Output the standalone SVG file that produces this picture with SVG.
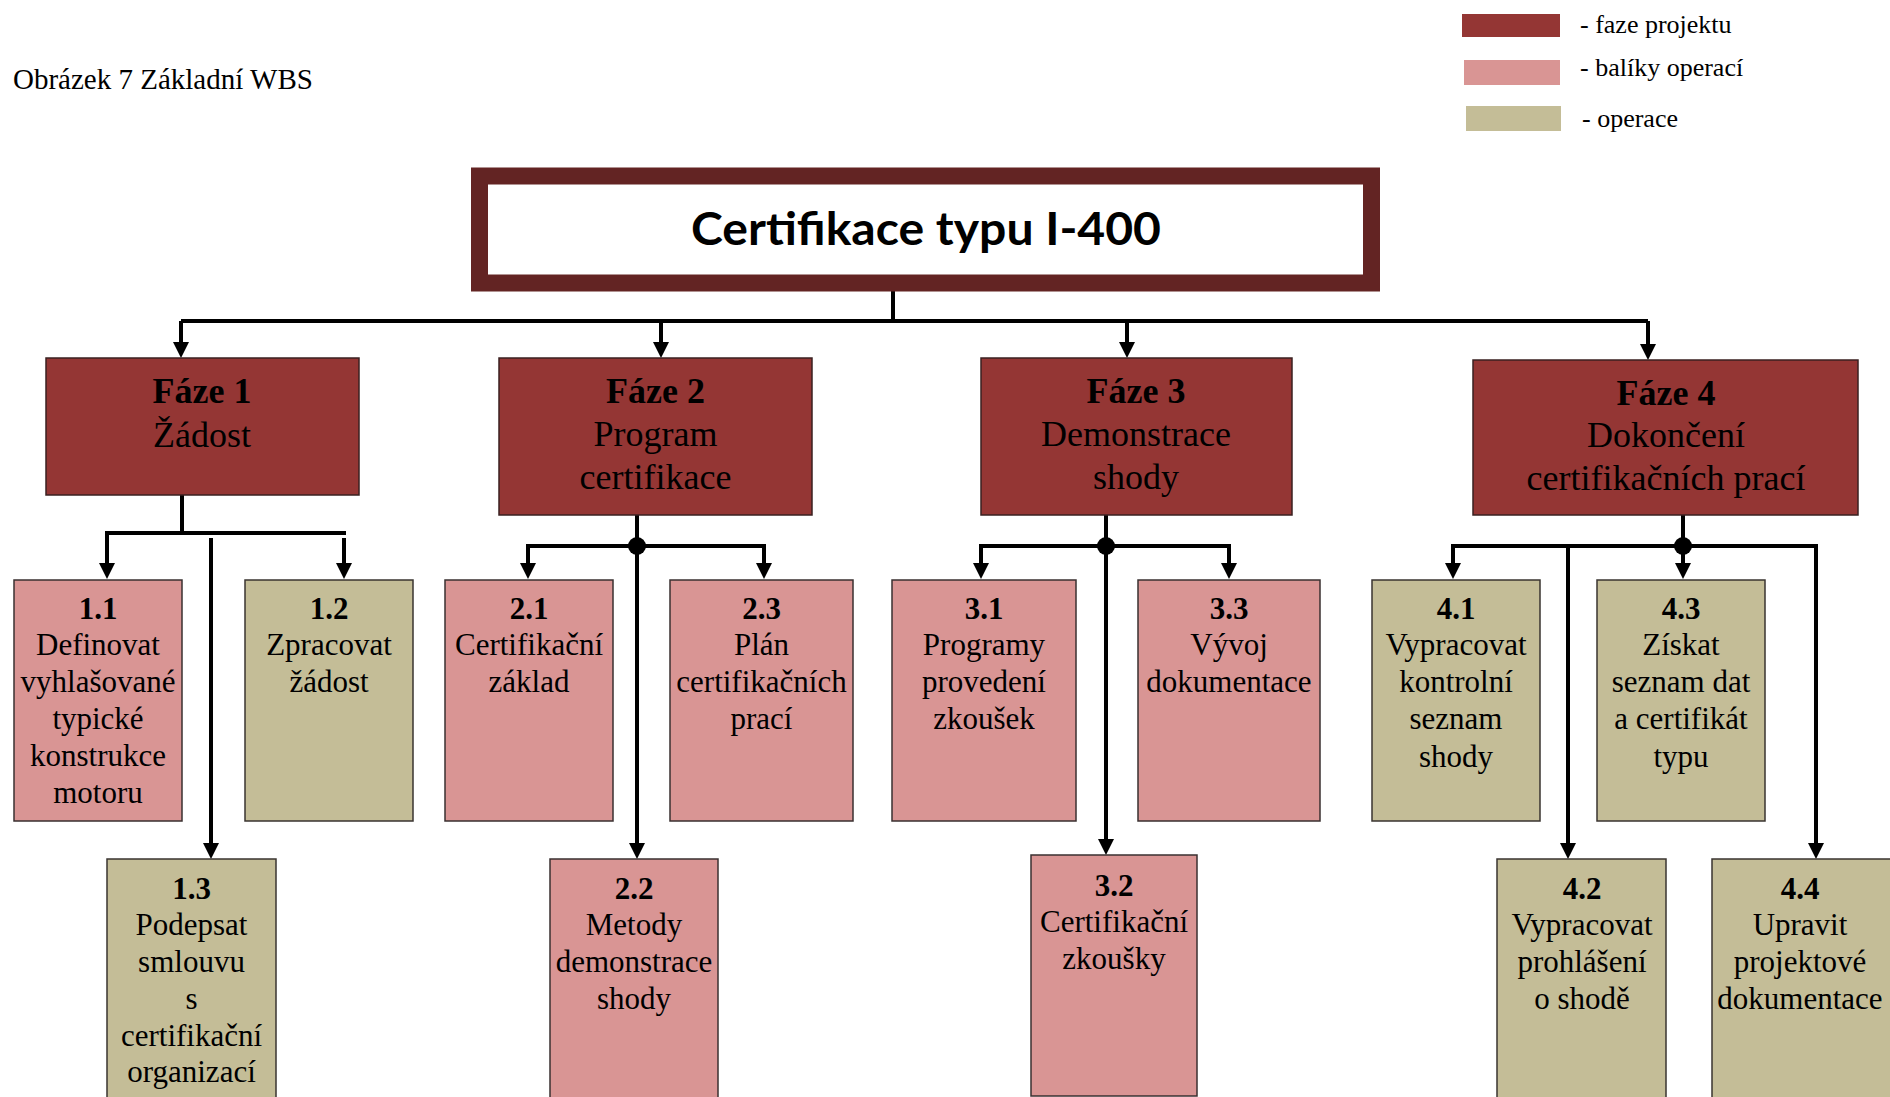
<svg xmlns="http://www.w3.org/2000/svg" width="1890" height="1097" viewBox="0 0 1890 1097">
<defs>
<style>
.serif{font-family:"Liberation Serif","Times New Roman",serif;fill:#000}
.cap{font-size:29px}
.leg{font-size:26px}
.ph{font-size:36px;text-anchor:middle}
.nd{font-size:31px;text-anchor:middle}
.b{font-weight:bold}
.phase{fill:#943634;stroke:#3a2020;stroke-width:1.5}
.pkg{fill:#D99594;stroke:#3a3030;stroke-width:1.5}
.op{fill:#C4BD97;stroke:#3a3530;stroke-width:1.5}
.ln{fill:none;stroke:#000;stroke-width:4}
.ar{fill:none;stroke:#000;stroke-width:4;marker-end:url(#ah)}
</style>
<marker id="ah" markerUnits="userSpaceOnUse" viewBox="0 0 16 16" markerWidth="16" markerHeight="16" refX="6" refY="8" orient="auto">
<path d="M0,0 L16,8 L0,16 z" fill="#000"/>
</marker>
</defs>
<rect width="1890" height="1097" fill="#fff"/>

<text class="serif cap" x="13" y="89">Obrázek 7 Základní WBS</text>

<g id="legend">
<rect x="1462" y="14" width="98" height="23" fill="#943634"/>
<rect x="1464" y="60" width="96" height="25" fill="#D99594"/>
<rect x="1466" y="106" width="95" height="25" fill="#C4BD97"/>
<text class="serif leg" x="1580" y="33">- faze projektu</text>
<text class="serif leg" x="1580" y="76">- balíky operací</text>
<text class="serif leg" x="1582" y="127">- operace</text>
</g>

<g id="connectors">
<path class="ln" d="M893,291 V321 M181,321 H1648"/>
<path class="ar" d="M181,321 V348"/>
<path class="ar" d="M661,321 V348"/>
<path class="ar" d="M1127,321 V348"/>
<path class="ar" d="M1648,321 V350"/>
<path class="ln" d="M182,495 V533 M105,533 H346"/>
<path class="ar" d="M107,531 V569"/>
<path class="ar" d="M344,538 V569"/>
<path class="ar" d="M211,538 V849"/>
<path class="ln" d="M637,515 V546 M526,546 H766"/>
<path class="ar" d="M528,544 V569"/>
<path class="ar" d="M764,544 V569"/>
<path class="ar" d="M637,546 V849"/>
<circle cx="637" cy="546" r="9" fill="#000"/>
<path class="ln" d="M1106,515 V546 M979,546 H1231"/>
<path class="ar" d="M981,544 V569"/>
<path class="ar" d="M1229,544 V569"/>
<path class="ar" d="M1106,546 V845"/>
<circle cx="1106" cy="546" r="9" fill="#000"/>
<path class="ln" d="M1683,515 V546 M1451,546 H1818"/>
<path class="ar" d="M1453,544 V569"/>
<path class="ar" d="M1683,546 V569"/>
<path class="ar" d="M1568,544 V849"/>
<path class="ar" d="M1816,544 V849"/>
<circle cx="1683" cy="546" r="9" fill="#000"/>
</g>

<g id="root">
<rect x="479.5" y="176" width="892" height="107" fill="#fff" stroke="#632423" stroke-width="17"/>
<text x="926" y="245" text-anchor="middle" font-family="Lato,'Open Sans',sans-serif" font-weight="bold" font-size="45" textLength="470" lengthAdjust="spacingAndGlyphs" fill="#000">Certifikace typu I-400</text>
</g>

<g id="phase1">
<rect class="phase" x="46" y="358" width="313" height="137"/>
<text class="serif ph b" x="202" y="403">Fáze 1</text>
<text class="serif ph" x="202" y="447">Žádost</text>
</g>
<g id="phase2">
<rect class="phase" x="499" y="358" width="313" height="157"/>
<text class="serif ph b" x="655.5" y="403">Fáze 2</text>
<text class="serif ph" x="655.5" y="446">Program</text>
<text class="serif ph" x="655.5" y="489">certifikace</text>
</g>
<g id="phase3">
<rect class="phase" x="981" y="358" width="311" height="157"/>
<text class="serif ph b" x="1136" y="403">Fáze 3</text>
<text class="serif ph" x="1136" y="446">Demonstrace</text>
<text class="serif ph" x="1136" y="489">shody</text>
</g>
<g id="phase4">
<rect class="phase" x="1473" y="360" width="385" height="155"/>
<text class="serif ph b" x="1666" y="405">Fáze 4</text>
<text class="serif ph" x="1666" y="447">Dokončení</text>
<text class="serif ph" x="1666" y="490">certifikačních prací</text>
</g>

<g id="n1_1">
<rect class="pkg" x="14" y="580" width="168" height="241"/>
<text class="serif nd b" x="98" y="619">1.1</text>
<text class="serif nd" x="98" y="655">Definovat</text>
<text class="serif nd" x="98" y="692">vyhlašované</text>
<text class="serif nd" x="98" y="729">typické</text>
<text class="serif nd" x="98" y="766">konstrukce</text>
<text class="serif nd" x="98" y="803">motoru</text>
</g>
<g id="n1_2">
<rect class="op" x="245" y="580" width="168" height="241"/>
<text class="serif nd b" x="329" y="619">1.2</text>
<text class="serif nd" x="329" y="655">Zpracovat</text>
<text class="serif nd" x="329" y="692">žádost</text>
</g>
<g id="n1_3">
<rect class="op" x="107" y="859" width="169" height="250"/>
<text class="serif nd b" x="191.5" y="899">1.3</text>
<text class="serif nd" x="191.5" y="935">Podepsat</text>
<text class="serif nd" x="191.5" y="972">smlouvu</text>
<text class="serif nd" x="191.5" y="1009">s</text>
<text class="serif nd" x="191.5" y="1046">certifikační</text>
<text class="serif nd" x="191.5" y="1082">organizací</text>
</g>

<g id="n2_1">
<rect class="pkg" x="445" y="580" width="168" height="241"/>
<text class="serif nd b" x="529" y="619">2.1</text>
<text class="serif nd" x="529" y="655">Certifikační</text>
<text class="serif nd" x="529" y="692">základ</text>
</g>
<g id="n2_3">
<rect class="pkg" x="670" y="580" width="183" height="241"/>
<text class="serif nd b" x="761.5" y="619">2.3</text>
<text class="serif nd" x="761.5" y="655">Plán</text>
<text class="serif nd" x="761.5" y="692">certifikačních</text>
<text class="serif nd" x="761.5" y="729">prací</text>
</g>
<g id="n2_2">
<rect class="pkg" x="550" y="859" width="168" height="250"/>
<text class="serif nd b" x="634" y="899">2.2</text>
<text class="serif nd" x="634" y="935">Metody</text>
<text class="serif nd" x="634" y="972">demonstrace</text>
<text class="serif nd" x="634" y="1009">shody</text>
</g>

<g id="n3_1">
<rect class="pkg" x="892" y="580" width="184" height="241"/>
<text class="serif nd b" x="984" y="619">3.1</text>
<text class="serif nd" x="984" y="655">Programy</text>
<text class="serif nd" x="984" y="692">provedení</text>
<text class="serif nd" x="984" y="729">zkoušek</text>
</g>
<g id="n3_3">
<rect class="pkg" x="1138" y="580" width="182" height="241"/>
<text class="serif nd b" x="1229" y="619">3.3</text>
<text class="serif nd" x="1229" y="655">Vývoj</text>
<text class="serif nd" x="1229" y="692">dokumentace</text>
</g>
<g id="n3_2">
<rect class="pkg" x="1031" y="855" width="166" height="241"/>
<text class="serif nd b" x="1114" y="896">3.2</text>
<text class="serif nd" x="1114" y="932">Certifikační</text>
<text class="serif nd" x="1114" y="969">zkoušky</text>
</g>

<g id="n4_1">
<rect class="op" x="1372" y="580" width="168" height="241"/>
<text class="serif nd b" x="1456" y="619">4.1</text>
<text class="serif nd" x="1456" y="655">Vypracovat</text>
<text class="serif nd" x="1456" y="692">kontrolní</text>
<text class="serif nd" x="1456" y="729">seznam</text>
<text class="serif nd" x="1456" y="767">shody</text>
</g>
<g id="n4_3">
<rect class="op" x="1597" y="580" width="168" height="241"/>
<text class="serif nd b" x="1681" y="619">4.3</text>
<text class="serif nd" x="1681" y="655">Získat</text>
<text class="serif nd" x="1681" y="692">seznam dat</text>
<text class="serif nd" x="1681" y="729">a certifikát</text>
<text class="serif nd" x="1681" y="767">typu</text>
</g>
<g id="n4_2">
<rect class="op" x="1497" y="859" width="169" height="250"/>
<text class="serif nd b" x="1582" y="899">4.2</text>
<text class="serif nd" x="1582" y="935">Vypracovat</text>
<text class="serif nd" x="1582" y="972">prohlášení</text>
<text class="serif nd" x="1582" y="1009">o shodě</text>
</g>
<g id="n4_4">
<rect class="op" x="1712" y="859" width="190" height="250"/>
<text class="serif nd b" x="1800" y="899">4.4</text>
<text class="serif nd" x="1800" y="935">Upravit</text>
<text class="serif nd" x="1800" y="972">projektové</text>
<text class="serif nd" x="1800" y="1009">dokumentace</text>
</g>
</svg>
